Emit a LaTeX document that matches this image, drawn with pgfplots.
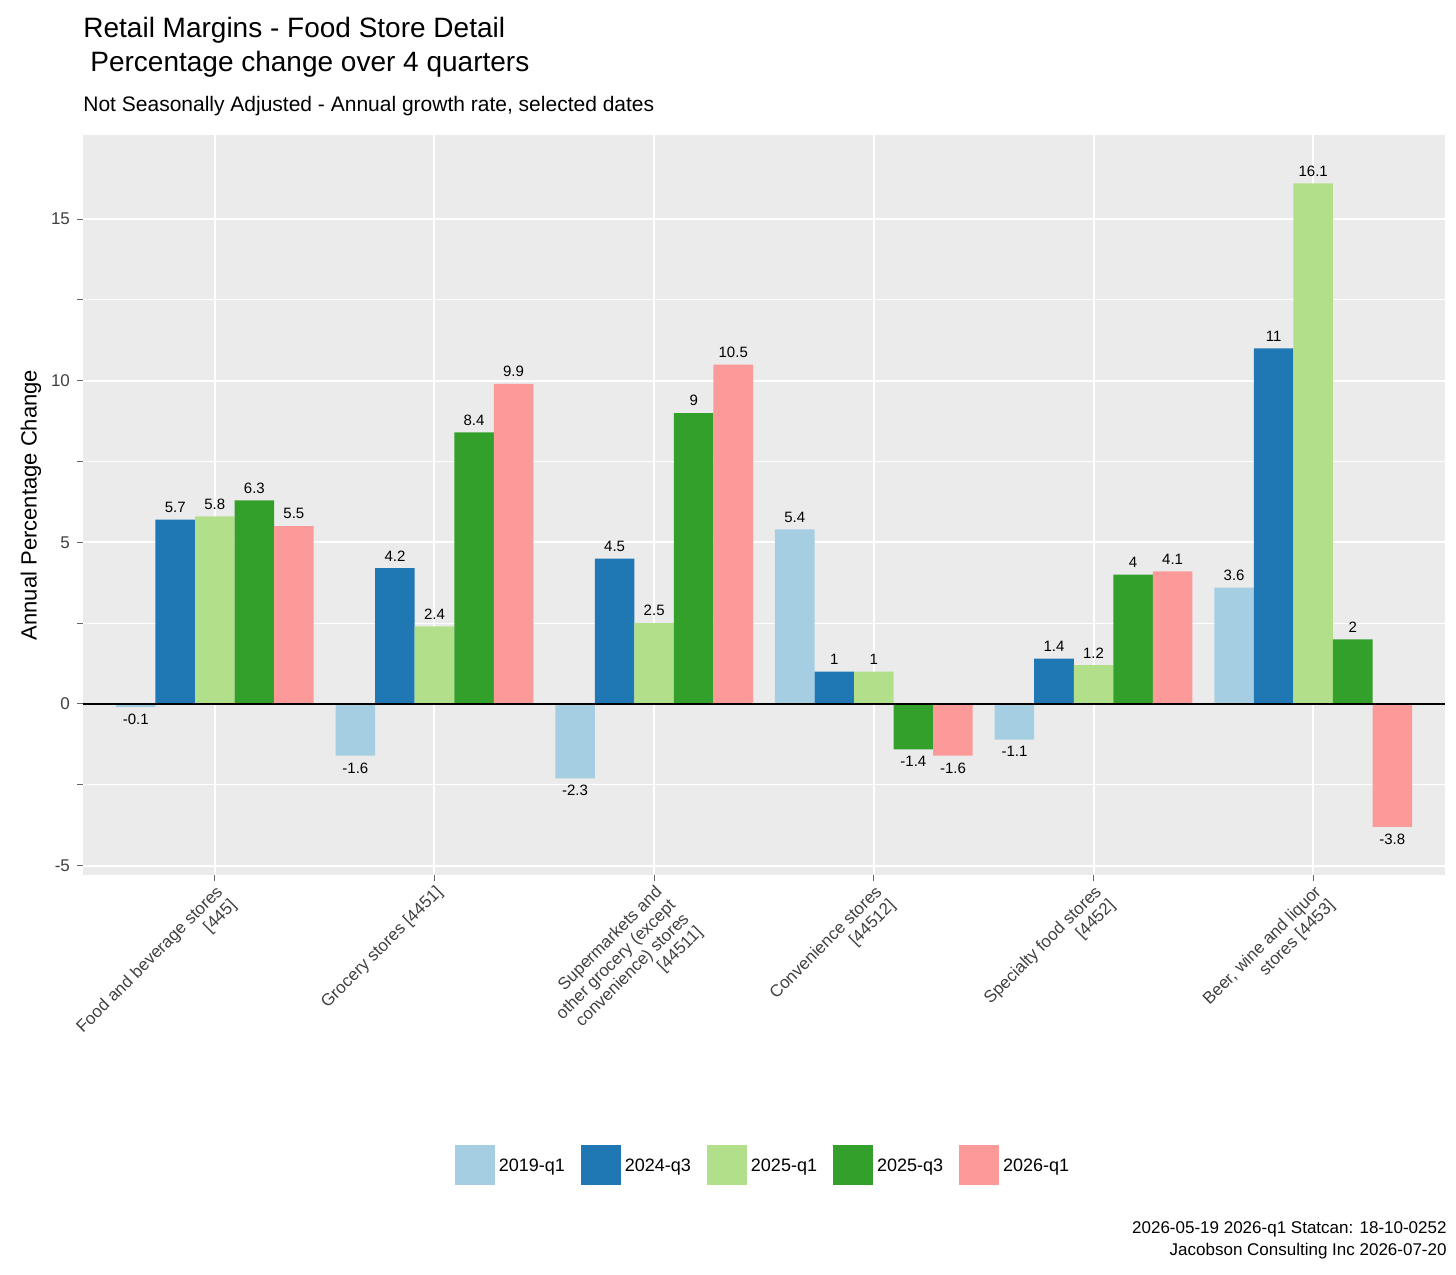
\documentclass[border=0pt]{standalone}
\usepackage{pgfplots}
\pgfplotsset{compat=1.18}
\usepackage{fontspec}
\setmainfont{Liberation Sans}
\definecolor{cA}{HTML}{A6CEE3}
\definecolor{cB}{HTML}{1F78B4}
\definecolor{cC}{HTML}{B2DF8A}
\definecolor{cD}{HTML}{33A02C}
\definecolor{cE}{HTML}{FB9A99}
\definecolor{panel}{RGB}{235,235,235}
\begin{document}
\begin{tikzpicture}
\begin{axis}[
  scale only axis, width=681pt, height=370pt,
  /pgf/number format/assume math mode=true,
  xmin=-0.6, xmax=5.6, ymin=-5.29, ymax=17.6,
  axis background/.style={fill=panel},
  axis line style={draw=none},
  ybar=0pt, bar width=0.18,
  xtick={0,1,2,3,4,5},
  xticklabels={{Food and beverage stores\\\relax[445]},{Grocery stores [4451]},{Supermarkets and\\other grocery (except\\convenience) stores\\\relax[44511]},{Convenience stores\\\relax[44512]},{Specialty food stores\\\relax[4452]},{Beer, wine and liquor\\stores [4453]}},
  xticklabel style={rotate=45, anchor=north east, align=right, font=\fontsize{8.5}{9.5}\selectfont, text=black!75, inner sep=1pt},
  ytick={-5,0,5,10,15}, minor ytick={-2.5,2.5,7.5,12.5},
  yticklabel style={font=\fontsize{8.5}{10}\selectfont, text=black!75},
  grid=both,
  major grid style={white, line width=1pt},
  minor grid style={white, line width=0.5pt},
  tick style={black!60, line width=0.5pt},
  major tick length=3pt, tickwidth=3pt,
  tick align=outside, tick pos=left,
  ylabel={Annual Percentage Change},
  ylabel style={font=\fontsize{11}{12}\selectfont, yshift=-2pt},
  nodes near coords,
  every node near coord/.append style={font=\fontsize{7.5}{8}\selectfont, black},
  legend style={at={(rel axis cs:0.5,0)}, anchor=center, yshift=-145pt, draw=none, fill=none, font=\fontsize{9}{10}\selectfont, /tikz/every even column/.append style={column sep=6pt}},
  legend columns=5,
  legend image code/.code={\fill[#1] (0pt,-9pt) rectangle (20pt,11pt);},
]
\addplot[fill=cA, draw=none] coordinates {(0,-0.1)(1,-1.6)(2,-2.3)(3,5.4)(4,-1.1)(5,3.6)};
\addplot[fill=cB, draw=none] coordinates {(0,5.7)(1,4.2)(2,4.5)(3,1)(4,1.4)(5,11)};
\addplot[fill=cC, draw=none] coordinates {(0,5.8)(1,2.4)(2,2.5)(3,1)(4,1.2)(5,16.1)};
\addplot[fill=cD, draw=none] coordinates {(0,6.3)(1,8.4)(2,9)(3,-1.4)(4,4)(5,2)};
\addplot[fill=cE, draw=none] coordinates {(0,5.5)(1,9.9)(2,10.5)(3,-1.6)(4,4.1)(5,-3.8)};
\legend{2019-q1,2024-q3,2025-q1,2025-q3,2026-q1}
\draw[black, line width=0.8pt] (axis cs:-0.6,0) -- (axis cs:5.6,0);
\coordinate (sw) at (rel axis cs:0,0);
\coordinate (ne) at (rel axis cs:1,1);
\end{axis}
\node[anchor=base west, font=\fontsize{14}{15}\selectfont, inner sep=0pt] at ([yshift=48.5pt]sw |- ne) {Retail Margins - Food Store Detail};
\node[anchor=base west, font=\fontsize{14}{15}\selectfont, inner sep=0pt] at ([yshift=31.5pt,xshift=3.5pt]sw |- ne) {Percentage change over 4 quarters};
\node[anchor=base west, font=\fontsize{10.5}{12}\selectfont, inner sep=0pt] at ([yshift=11.5pt]sw |- ne) {Not Seasonally Adjusted - Annual growth rate, selected dates};
\node[anchor=base east, align=right, font=\fontsize{8.5}{11}\selectfont, inner sep=0pt] at ([yshift=-179pt,xshift=1pt]ne |- sw) {2026-05-19 2026-q1 Statcan: 18-10-0252};
\node[anchor=base east, align=right, font=\fontsize{8.5}{11}\selectfont, inner sep=0pt] at ([yshift=-190pt,xshift=1pt]ne |- sw) {Jacobson Consulting Inc 2026-07-20};
\pgfresetboundingbox
\path[use as bounding box] ([shift={(-41.5pt,-199.5pt)}]sw) rectangle ([shift={(5.5pt,67.5pt)}]ne);
\end{tikzpicture}
\end{document}
